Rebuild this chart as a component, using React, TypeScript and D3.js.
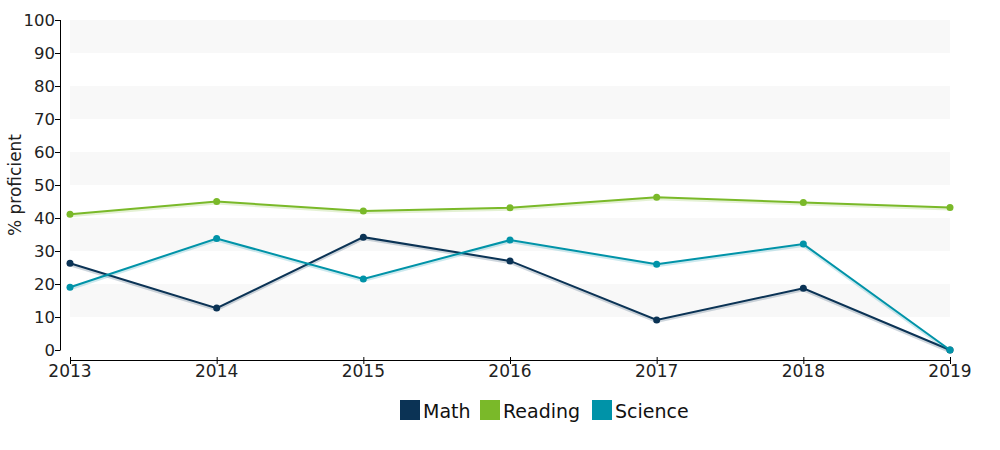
import React from "react";
import * as d3 from "d3";

const years = [2013, 2014, 2015, 2016, 2017, 2018, 2019];
const mathValues = [26.3, 12.7, 34.2, 27, 9.1, 18.7, 0];
const readingValues = [41.1, 45, 42.1, 43.1, 46.3, 44.7, 43.2];
const scienceValues = [19, 33.8, 21.5, 33.3, 26, 32.1, 0];
const seriesNames = ["Math", "Reading", "Science"];
const seriesColors = ["#0b3355", "#7ab929", "#0093a8"];
const yTicks = [0, 10, 20, 30, 40, 50, 60, 70, 80, 90, 100];
const bands = [[10, 20], [30, 40], [50, 60], [70, 80], [90, 100]];

export default function App() {
  const W = 1000, H = 450;
  const x = d3.scaleLinear().domain([2013, 2019]).range([70, 950]);
  const y = d3.scaleLinear().domain([0, 100]).range([350, 20]);
  const line = d3.line<number>().x((_, i) => x(years[i])).y((d) => y(d));
  const data = [mathValues, readingValues, scienceValues];
  const font = "'DejaVu Sans', Verdana, sans-serif";
  const legendX = [400, 480, 592];
  return (
    <svg width={W} height={H} style={{ position: "absolute", left: 0, top: 0 }} fontFamily={font}>
      <rect x={0} y={0} width={W} height={H} fill="#fff" />
      {bands.map(([a, b]) => (
        <rect key={a} x={70} y={y(b)} width={880} height={y(a) - y(b)} fill="#f8f8f8" />
      ))}
      {/* y axis */}
      <line x1={60.5} x2={60.5} y1={20} y2={350} stroke="#000" strokeWidth={1} />
      {yTicks.map((t) => (
        <g key={t}>
          <line x1={55} x2={60.5} y1={y(t) + 0.5} y2={y(t) + 0.5} stroke="#000" />
          <text x={55} y={y(t) + 6} textAnchor="end" fontSize={16.5} fill="#222">{t}</text>
        </g>
      ))}
      <text transform={`translate(21,${y(50)}) rotate(-90)`} textAnchor="middle" fontSize={17} fill="#222">% proficient</text>
      {/* x axis */}
      <line x1={70} x2={950} y1={360.5} y2={360.5} stroke="#000" />
      {years.map((yr) => (
        <g key={yr}>
          <line x1={x(yr) + 0.5} x2={x(yr) + 0.5} y1={357} y2={364} stroke="#000" />
          <text x={x(yr)} y={377} textAnchor="middle" fontSize={17} fill="#222">{yr}</text>
        </g>
      ))}
      {/* series */}
      {data.map((vals, si) => (
        <g key={si}>
          <path d={line(vals) || ""} fill="none" stroke={seriesColors[si]} strokeOpacity={0.2} strokeWidth={3} transform="translate(0,1.5)" />
          <path d={line(vals) || ""} fill="none" stroke={seriesColors[si]} strokeWidth={2} />
          {vals.map((v, i) => (
            <circle key={i} cx={x(years[i])} cy={y(v)} r={3.5} fill={seriesColors[si]} />
          ))}
        </g>
      ))}
      {/* legend */}
      {seriesNames.map((n, i) => (
        <g key={n}>
          <rect x={legendX[i]} y={400} width={20} height={20} fill={seriesColors[i]} />
          <text x={legendX[i] + 23} y={418} fontSize={19} fill="#111">{n}</text>
        </g>
      ))}
    </svg>
  );
}
